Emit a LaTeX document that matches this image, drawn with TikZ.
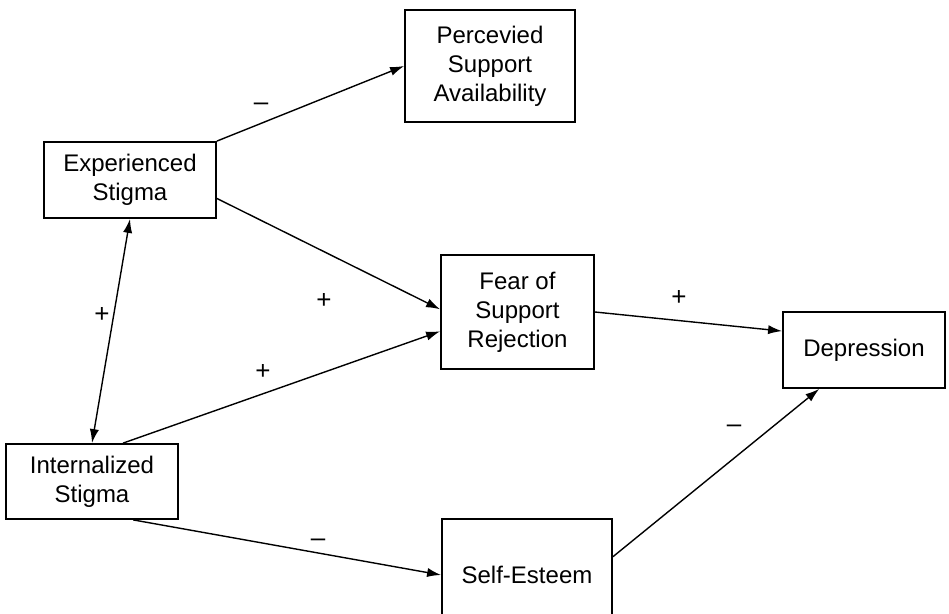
\documentclass[tikz,border=0pt]{standalone}
\usepackage{fontspec}
\setmainfont{Liberation Sans}
\usepackage{tikz}
\usetikzlibrary{arrows.meta, calc, positioning}

\begin{document}
\begin{tikzpicture}[x=0.5pt, y=-0.5pt,
  font=\fontsize{12}{14.5}\selectfont,
  box/.style={draw, line width=0.9pt, align=center, inner sep=0pt},
  path/.style={line width=0.7pt, -{Latex[length=7pt,width=4.6pt]}},
  sign/.style={inner sep=0pt, font=\fontsize{13}{15}\selectfont}]
\clip (0,0) rectangle (949,614);

\node[box, minimum width=85pt, minimum height=56pt] (perc) at (490,66) {Percevied\\Support\\Availability};
\node[box, minimum width=86pt, minimum height=38pt] (exp) at (130,180) {Experienced\\Stigma};
\node[box, minimum width=76.5pt, minimum height=57pt] (fear) at (517.5,312) {Fear of\\Support\\Rejection};
\node[box, minimum width=81pt, minimum height=38pt] (dep) at (864,350) {Depression};
\node[box, minimum width=86pt, minimum height=37.5pt] (intl) at (92,481.5) {Internalized\\Stigma};
\node[box, minimum width=85pt, minimum height=56pt] (self) at (527,575) {Self-Esteem};

\draw[path] (exp.north east) -- (perc.west);
\draw[path] (exp.-12.5) -- (fear.178);
\draw[path, {Latex[length=7pt,width=4.6pt]}-{Latex[length=7pt,width=4.6pt]}] (exp.south) -- (intl.north);
\draw[path] (intl.51) -- (fear.194);
\draw[path] (intl.-43) -- (self.west);
\draw[path] (fear.east) -- (dep.167);
\draw[path] (self.12) -- (dep.221.5);

\node[sign] (s1) at (261,107) {--};
\node[sign] (s2) at (324,301) {+};
\node[sign] (s3) at (102,315) {+};
\node[sign] (s4) at (263,372) {+};
\node[sign] (s5) at (318,543) {--};
\node[sign] (s6) at (679,298) {+};
\node[sign] (s7) at (734,429) {--};

\end{tikzpicture}
\end{document}
